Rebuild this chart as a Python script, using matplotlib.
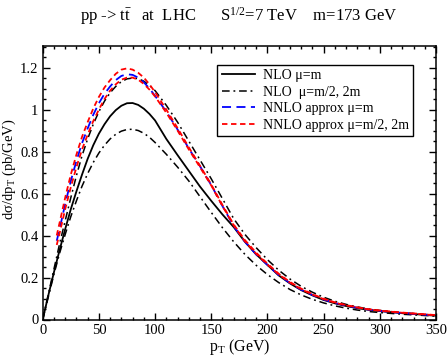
import matplotlib
matplotlib.use("Agg")
import matplotlib.pyplot as plt
from matplotlib.ticker import MultipleLocator, FuncFormatter

# ---- data ----
pt_nlo = [0, 5, 10, 15, 20, 25, 30, 35, 40, 45, 50, 55, 60, 65, 70, 75, 80, 85, 90, 95, 100,
          110, 120, 130, 140, 150, 160, 170, 180, 190, 200, 210, 220, 230, 240, 250, 260,
          270, 280, 290, 300, 320, 340, 350]
nlo_m = [0, 0.115, 0.225, 0.33, 0.43, 0.525, 0.61, 0.69, 0.765, 0.83, 0.885, 0.93, 0.968, 0.997,
         1.018, 1.03, 1.031, 1.022, 1.004, 0.979, 0.948, 0.86, 0.783, 0.708, 0.633, 0.565, 0.50,
         0.44, 0.37, 0.31, 0.26, 0.21, 0.172, 0.14, 0.115, 0.093, 0.077, 0.064, 0.054, 0.046,
         0.04, 0.03, 0.022, 0.018]
nlo_half = [0, 0.12, 0.24, 0.36, 0.47, 0.58, 0.685, 0.78, 0.86, 0.93, 0.99, 1.04, 1.08, 1.11,
            1.133, 1.146, 1.15, 1.147, 1.135, 1.115, 1.09, 1.02, 0.94, 0.85, 0.76, 0.67, 0.575,
            0.48, 0.405, 0.342, 0.285, 0.235, 0.193, 0.158, 0.13, 0.106, 0.087, 0.072, 0.06,
            0.05, 0.043, 0.032, 0.024, 0.02]
nlo_two = [0, 0.108, 0.215, 0.315, 0.405, 0.49, 0.565, 0.635, 0.695, 0.748, 0.793, 0.83, 0.86,
           0.882, 0.897, 0.905, 0.906, 0.9, 0.887, 0.868, 0.843, 0.787, 0.726, 0.66, 0.585,
           0.51, 0.437, 0.37, 0.31, 0.258, 0.214, 0.176, 0.143, 0.117, 0.096, 0.079, 0.065,
           0.054, 0.045, 0.038, 0.033, 0.025, 0.019, 0.016]

pt_nnlo = [12.5, 15, 20, 25, 30, 35, 40, 45, 50, 55, 60, 65, 70, 75, 80, 85, 90, 95, 100,
           110, 120, 130, 140, 150, 160, 170, 180, 190, 200, 210, 220, 230, 240, 250, 260,
           270, 280, 290, 300, 320, 340, 350]
nnlo_m = [0.375, 0.43, 0.55, 0.66, 0.755, 0.84, 0.91, 0.975, 1.03, 1.075, 1.11, 1.14, 1.16,
          1.168, 1.165, 1.152, 1.13, 1.1, 1.065, 0.99, 0.905, 0.815, 0.73, 0.64, 0.54, 0.445,
          0.37, 0.31, 0.26, 0.212, 0.174, 0.142, 0.117, 0.095, 0.079, 0.066, 0.056, 0.047,
          0.041, 0.031, 0.023, 0.019]
nnlo_half = [0.40, 0.46, 0.58, 0.69, 0.785, 0.87, 0.94, 1.005, 1.06, 1.105, 1.14, 1.17, 1.19,
             1.196, 1.19, 1.175, 1.152, 1.12, 1.083, 1.0, 0.912, 0.82, 0.732, 0.643, 0.545,
             0.452, 0.378, 0.318, 0.266, 0.218, 0.179, 0.147, 0.121, 0.099, 0.082, 0.069,
             0.058, 0.049, 0.043, 0.033, 0.025, 0.021]
nnlo_two = [0.355, 0.41, 0.525, 0.63, 0.725, 0.81, 0.88, 0.945, 1.0, 1.05, 1.09, 1.12, 1.142,
            1.152, 1.152, 1.142, 1.122, 1.095, 1.062, 0.985, 0.9, 0.81, 0.725, 0.638, 0.54,
            0.448, 0.372, 0.313, 0.262, 0.215, 0.176, 0.144, 0.119, 0.097, 0.08, 0.067, 0.057,
            0.048, 0.042, 0.032, 0.024, 0.02]

legend_labels = ["NLO μ=m", "NLO  μ=m/2, 2m", "NNLO approx μ=m", "NNLO approx μ=m/2, 2m"]
title = "pp -> t$\\bar{\\mathrm{t}}$   at  LHC      S$^{1/2}$=7 TeV    m=173 GeV"

plt.rcParams["font.family"] = ["Liberation Serif", "DejaVu Serif"]
plt.rcParams["mathtext.fontset"] = "custom"
plt.rcParams["mathtext.rm"] = "Liberation Serif"
plt.rcParams["mathtext.it"] = "Liberation Serif:italic"
plt.rcParams["mathtext.default"] = "regular"

fig = plt.figure(figsize=(4.47, 3.57), dpi=100)
ax = fig.add_axes([42.7 / 447, 1 - 319.5 / 357, (436 - 42.7) / 447, (319.5 - 45.7) / 357])

l1, = ax.plot(pt_nlo, nlo_m, color="black", lw=1.3, ls="-")
l2, = ax.plot(pt_nlo, nlo_half, color="black", lw=1.1, ls=(0, (5, 2.5, 1.2, 2.5)))
ax.plot(pt_nlo, nlo_two, color="black", lw=1.1, ls=(0, (5, 2.5, 1.2, 2.5)))
l3, = ax.plot(pt_nnlo, nnlo_m, color="#0000ff", lw=1.3, ls=(0, (5, 3)))
l4, = ax.plot(pt_nnlo, nnlo_half, color="#ff0000", lw=1.3, ls=(0, (3, 2)))
ax.plot(pt_nnlo, nnlo_two, color="#ff0000", lw=1.3, ls=(0, (3, 2)))

ax.set_xlim(0, 350)
ax.set_ylim(0, 1.304)
ax.xaxis.set_major_locator(MultipleLocator(50))
ax.xaxis.set_minor_locator(MultipleLocator(10))
ax.yaxis.set_major_locator(MultipleLocator(0.2))
ax.yaxis.set_minor_locator(MultipleLocator(0.05))
ax.yaxis.set_major_formatter(FuncFormatter(lambda v, p: f"{v:g}"))
ax.tick_params(which="both", direction="in", top=True, right=True, labelsize=10.5, width=1.0)
ax.tick_params(which="major", length=5, pad=3)
ax.tick_params(which="minor", length=2.5)
for s in ax.spines.values():
    s.set_linewidth(1.1)

ax.set_xlabel("p$_\\mathrm{T}$ (GeV)", fontsize=11.5, labelpad=0)
ax.set_ylabel("dσ/dp$_\\mathrm{T}$ (pb/GeV)", fontsize=10.5)
ax.yaxis.set_label_coords(-0.062, 0.55)
fig.text(0.535, 1 - 16 / 357, title, ha="center", va="center", fontsize=12)

leg = ax.legend([l1, l2, l3, l4], legend_labels, loc="upper right",
                bbox_to_anchor=(412.7 / 447, 1 - 65 / 357), bbox_transform=fig.transFigure,
                borderaxespad=0, fontsize=10, fancybox=False, framealpha=1,
                edgecolor="black", handlelength=2.4, handletextpad=0.55,
                borderpad=0.3, labelspacing=0.25)
leg.get_frame().set_linewidth(1.0)

fig.savefig("out.png", dpi=100)
